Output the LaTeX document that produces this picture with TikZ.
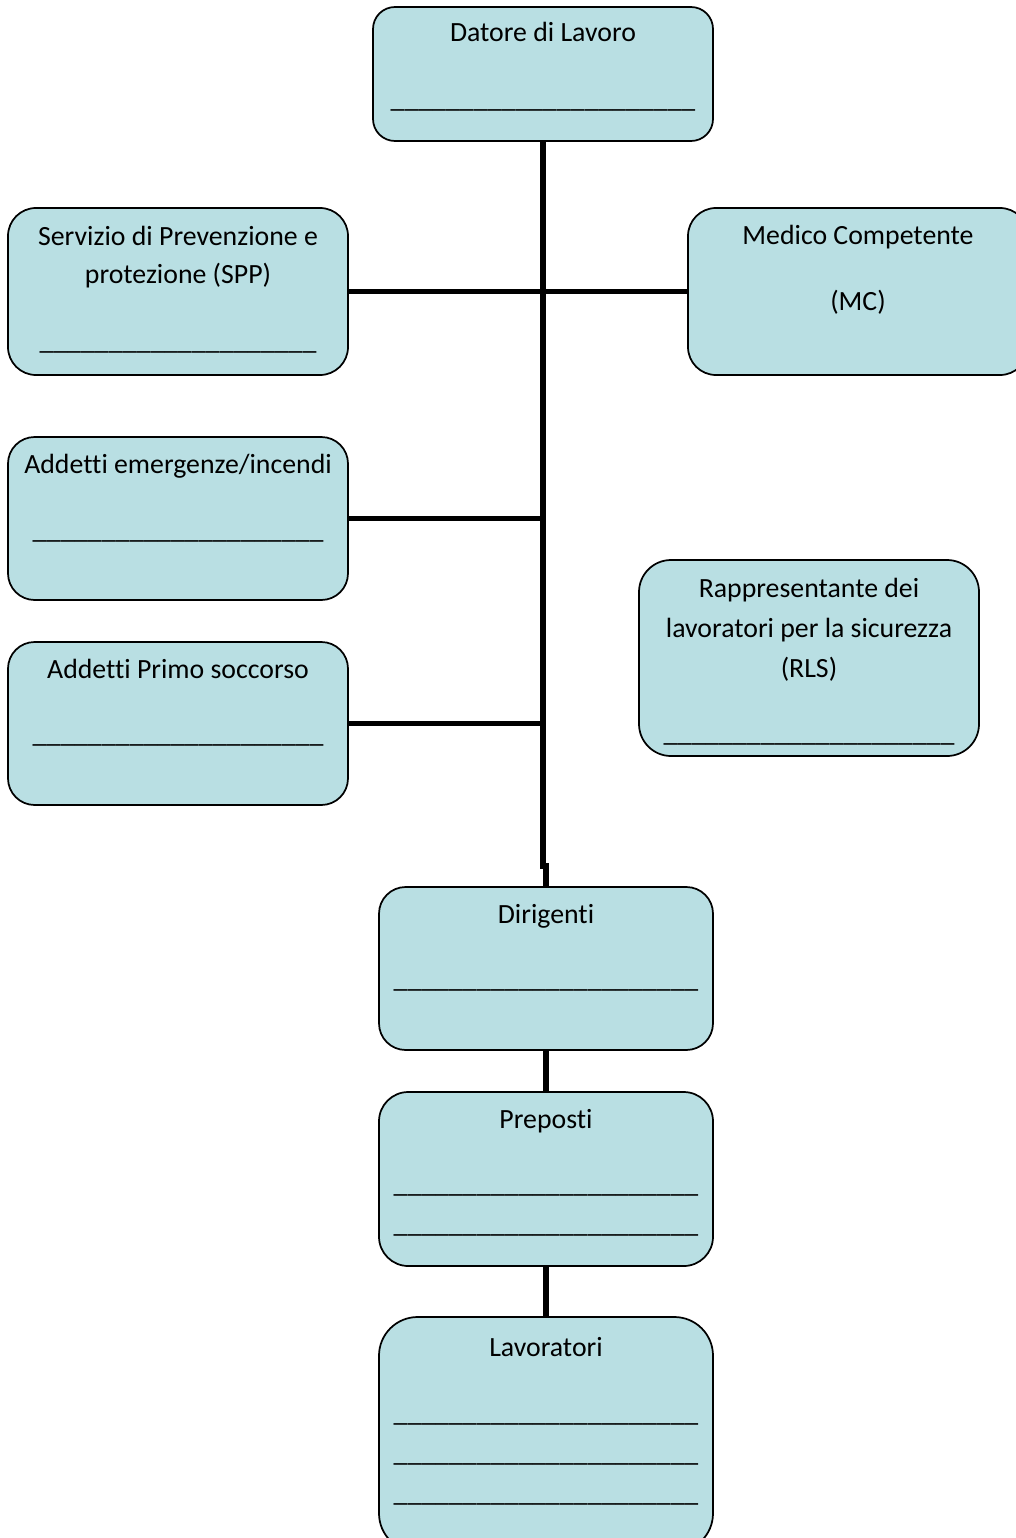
\documentclass[tikz,border=0pt]{standalone}
\usepackage{fontspec}
\setmainfont{Carlito}[Ligatures=NoCommon, RawFeature={-calt}]
\usetikzlibrary{positioning, fit, calc}
\definecolor{boxfill}{HTML}{B9DFE3}

\begin{document}
\begin{tikzpicture}[
      x=0.75pt, y=-0.75pt,
      role/.style={draw, line width=1.3pt, fill=boxfill, inner sep=0pt},
      title/.style={font=\fontsize{20.85}{28.5}\selectfont, align=center,
                    anchor=base, inner sep=0pt},
      blank/.style={font=\fontsize{20.85}{30}\selectfont, align=center,
                    anchor=base, inner sep=0pt},
      link/.style={line width=3.8pt},
    ]
    \useasboundingbox (0,0) rectangle (1016,1538);
    \clip (0,0) rectangle (1016,1538);

    % Boxes
    \node[role, rounded corners=16.5pt, fit={(373,7) (713,141)}] (dl) {};
    \node[role, rounded corners=21pt, fit={(8,208) (348,375)}] (spp) {};
    \node[role, rounded corners=21pt, fit={(688,208) (1028,375)}] (mc) {};
    \node[role, rounded corners=20pt, fit={(8,437) (348,600)}] (emerg) {};
    \node[role, rounded corners=20pt, fit={(8,642) (348,805)}] (primo) {};
    \node[role, rounded corners=24pt, fit={(639,560) (979,756)}] (rls) {};
    \node[role, rounded corners=20pt, fit={(379,887) (713,1050)}] (dir) {};
    \node[role, rounded corners=22pt, fit={(379,1092) (713,1266)}] (prep) {};
    \node[role, rounded corners=29pt, fit={(379,1317) (713,1552)}] (lav) {};

    % Titles (base = last line)
    \node[title] (dl-t) at (543,42) {Datore di Lavoro};
    \node[title] (spp-t) at (178,283) {Servizio di Prevenzione e\\protezione (SPP)};
    \node[title] (mc-t) at (858,310) {Medico Competente\\[21pt](MC)};
    \node[title] (emerg-t) at (178,473) {Addetti emergenze/incendi};
    \node[title] (primo-t) at (178,678) {Addetti Primo soccorso};
    \node[title, font=\fontsize{20.85}{30}\selectfont] (rls-t) at (809,677)
      {Rappresentante dei\\lavoratori per la sicurezza\\(RLS)};
    \node[title] (dir-t) at (546,923) {Dirigenti};
    \node[title] (prep-t) at (546,1128) {Preposti};
    \node[title] (lav-t) at (546,1356) {Lavoratori};

    % Blank lines to fill in
    \node[blank] (dl-b) at (543,108) {\_\_\_\_\_\_\_\_\_\_\_\_\_\_\_\_\_\_\_\_\_\_};
    \node[blank] (spp-b) at (178,349) {\_\_\_\_\_\_\_\_\_\_\_\_\_\_\_\_\_\_\_\_};
    \node[blank] (emerg-b) at (178,538) {\_\_\_\_\_\_\_\_\_\_\_\_\_\_\_\_\_\_\_\_\_};
    \node[blank] (primo-b) at (178,742) {\_\_\_\_\_\_\_\_\_\_\_\_\_\_\_\_\_\_\_\_\_};
    \node[blank] (rls-b) at (809,741) {\_\_\_\_\_\_\_\_\_\_\_\_\_\_\_\_\_\_\_\_\_};
    \node[blank] (dir-b) at (546,987) {\_\_\_\_\_\_\_\_\_\_\_\_\_\_\_\_\_\_\_\_\_\_};
    \node[blank] (prep-b) at (546,1232)
      {\_\_\_\_\_\_\_\_\_\_\_\_\_\_\_\_\_\_\_\_\_\_\\\_\_\_\_\_\_\_\_\_\_\_\_\_\_\_\_\_\_\_\_\_\_};
    \node[blank] (lav-b) at (546,1501)
      {\_\_\_\_\_\_\_\_\_\_\_\_\_\_\_\_\_\_\_\_\_\_\\\_\_\_\_\_\_\_\_\_\_\_\_\_\_\_\_\_\_\_\_\_\_\\\_\_\_\_\_\_\_\_\_\_\_\_\_\_\_\_\_\_\_\_\_\_};

    % Connectors
    \coordinate (jog) at (543,866);
    \draw[link] (dl.south) -- (jog) -| (dir.north);
    \draw[link] (spp) -- (mc);
    \draw[link] (emerg.east) -- (emerg.east -| dl.south);
    \draw[link] (primo.east) -- (primo.east -| dl.south);
    \draw[link] (dir) -- (prep);
    \draw[link] (prep) -- (lav);
  \end{tikzpicture}
\end{document}
